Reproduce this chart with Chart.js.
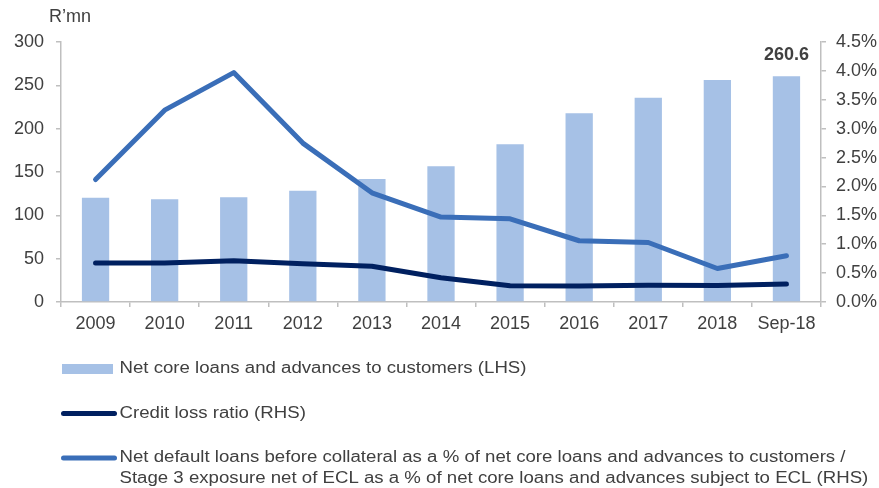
<!DOCTYPE html>
<html>
<head>
<meta charset="utf-8">
<script src="https://cdn.jsdelivr.net/npm/chart.js@4/dist/chart.umd.min.js"></script>
<style>
  html, body { margin: 0; padding: 0; background: #ffffff; }
  #wrap { width: 879px; height: 488px; position: relative; }
</style>
</head>
<body>
<div id="wrap"><canvas id="c" width="879" height="488"></canvas></div>
<script>
// ---- data ----
const categories = ['2009','2010','2011','2012','2013','2014','2015','2016','2017','2018','Sep-18'];
const netCoreLoans = [120.3, 118.5, 120.8, 128.5, 141.9, 156.5, 181.9, 217.7, 235.7, 256.2, 260.6];
const creditLossRatio = [0.675, 0.675, 0.715, 0.66, 0.62, 0.42, 0.28, 0.275, 0.29, 0.285, 0.31];
const netDefaultLoans = [2.12, 3.32, 3.97, 2.75, 1.89, 1.47, 1.44, 1.06, 1.03, 0.58, 0.80];
const leftTicks = [0, 50, 100, 150, 200, 250, 300];
const rightTicks = [0, 0.5, 1.0, 1.5, 2.0, 2.5, 3.0, 3.5, 4.0, 4.5];
const highlightLabel = '260.6';
const unitLabel = 'R\u2019mn';
const legendLabels = [
  ['Net core loans and advances to customers (LHS)'],
  ['Credit loss ratio (RHS)'],
  ['Net default loans before collateral as a % of net core loans and advances to customers /',
   'Stage 3 exposure net of ECL as a % of net core loans and advances subject to ECL (RHS)']
];

const BAR = '#A6C1E6';
const NAVY = '#002060';
const BLUE = '#3A6EB8';
const TXT = '#404040';
const AXIS = '#BFBFBF';
const FONT = "'Liberation Sans', Arial, sans-serif";

const overlay = {
  id: 'overlay',
  afterDraw(chart) {
    const ctx = chart.ctx;
    ctx.save();
    // unit label
    ctx.fillStyle = TXT;
    ctx.font = '18px ' + FONT;
    ctx.textAlign = 'left';
    ctx.textBaseline = 'middle';
    ctx.fillText(unitLabel, 49, 17);
    // highlight label over last bar
    const meta = chart.getDatasetMeta(0);
    const last = meta.data[meta.data.length - 1];
    ctx.font = 'bold 18px ' + FONT;
    ctx.textAlign = 'center';
    ctx.fillText(highlightLabel, last.x, last.y - 21);
    // legend
    const swL = 61, swR = 117, textX = 119.5;
    const rows = [369, 413.5, 458];
    ctx.font = '16px ' + FONT;
    ctx.textAlign = 'left';
    ctx.textBaseline = 'middle';
    // horizontal condense factor from target width of first label
    const m = ctx.measureText(legendLabels[0][0]).width;
    const sx = 407 / m;
    // swatches
    ctx.fillStyle = BAR;
    ctx.fillRect(swL + 1, rows[0] - 5, 51, 10);
    ctx.lineCap = 'round';
    ctx.lineWidth = 5;
    ctx.strokeStyle = NAVY;
    ctx.beginPath(); ctx.moveTo(swL + 2.5, rows[1]); ctx.lineTo(swR - 2.5, rows[1]); ctx.stroke();
    ctx.strokeStyle = BLUE;
    ctx.beginPath(); ctx.moveTo(swL + 2.5, rows[2]); ctx.lineTo(swR - 2.5, rows[2]); ctx.stroke();
    ctx.fillStyle = TXT;
    legendLabels.forEach((lines, i) => {
      lines.forEach((t, j) => {
        ctx.save();
        ctx.translate(textX, rows[i] + j * 21);
        ctx.scale(sx, 1);
        ctx.fillText(t, 0, 0);
        ctx.restore();
      });
    });
    ctx.restore();
  }
};

new Chart(document.getElementById('c'), {
  data: {
    labels: categories,
    datasets: [
      { type: 'bar', label: legendLabels[0][0], data: netCoreLoans, yAxisID: 'yL',
        backgroundColor: BAR, barPercentage: 0.395, categoryPercentage: 1.0, order: 3 },
      { type: 'line', label: legendLabels[1][0], data: creditLossRatio, yAxisID: 'yR',
        borderColor: NAVY, borderWidth: 5, pointRadius: 0, tension: 0,
        borderCapStyle: 'round', borderJoinStyle: 'round', order: 2 },
      { type: 'line', label: legendLabels[2].join(' '), data: netDefaultLoans, yAxisID: 'yR',
        borderColor: BLUE, borderWidth: 5, pointRadius: 0, tension: 0,
        borderCapStyle: 'round', borderJoinStyle: 'round', order: 1 }
    ]
  },
  options: {
    responsive: false,
    animation: false,
    layout: { padding: { top: 42, left: 0, right: 0, bottom: 0 } },
    plugins: { legend: { display: false }, tooltip: { enabled: false } },
    scales: {
      x: {
        type: 'category',
        offset: true,
        grid: { offset: true, drawOnChartArea: false, drawTicks: true, tickLength: 5, color: AXIS, lineWidth: 1.5 },
        border: { color: AXIS, width: 1.5 },
        ticks: { color: TXT, font: { family: FONT, size: 18 }, padding: 6, maxRotation: 0, autoSkip: false },
        afterFit(s) { s.height = 488 - 302; }
      },
      yL: {
        type: 'linear', position: 'left', min: 0, max: 300,
        afterBuildTicks(s) { s.ticks = leftTicks.map(v => ({ value: v })); },
        grid: { drawOnChartArea: false, tickLength: 5, color: AXIS, lineWidth: 1.5 },
        border: { color: AXIS, width: 1.5 },
        ticks: { color: TXT, font: { family: FONT, size: 18 }, padding: 12 },
        afterFit(s) { s.width = 61; }
      },
      yR: {
        type: 'linear', position: 'right', min: 0, max: 4.5,
        afterBuildTicks(s) { s.ticks = rightTicks.map(v => ({ value: v })); },
        grid: { drawOnChartArea: false, tickLength: 5, color: AXIS, lineWidth: 1.5 },
        border: { color: AXIS, width: 1.5 },
        ticks: { color: TXT, font: { family: FONT, size: 18 }, padding: 10,
                 callback: v => v.toFixed(1) + '%' },
        afterFit(s) { s.width = 879 - 821; }
      }
    }
  },
  plugins: [overlay]
});
</script>
</body>
</html>
